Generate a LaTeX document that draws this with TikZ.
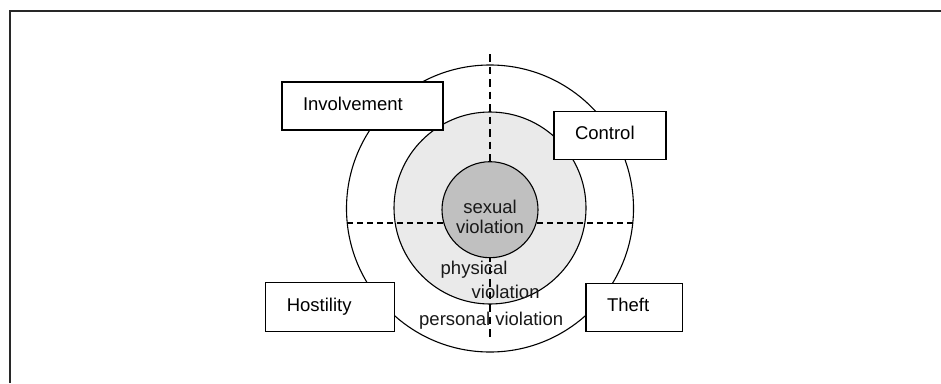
\documentclass[tikz,border=0pt]{standalone}
\usepackage{fontspec}
\setmainfont{Liberation Sans}
\definecolor{midgray}{RGB}{234,234,234}
\definecolor{coregray}{RGB}{192,192,192}
\definecolor{framegray}{RGB}{40,40,40}
\tikzset{
  ring/.style={circle, draw=black, line width=1.1pt, inner sep=0pt},
  catbox/.style={rectangle, draw=black, fill=white, line width=1.3pt,
    inner xsep=21pt, inner ysep=0pt, align=left,
    text height=13.3pt, text depth=5.1pt, font=\fontsize{18.5pt}{21pt}\selectfont},
  lbl/.style={inner sep=0pt, font=\fontsize{18.5pt}{20.6pt}\selectfont, text=black!90},
  hdash/.style={line width=1.2pt, dash pattern=on 6pt off 4pt},
  vdash/.style={line width=1.2pt, dash pattern=on 7.5pt off 5pt},
  frameline/.style={line width=2pt, draw=framegray}
}
\begin{document}
\begin{tikzpicture}[x=1pt,y=-1pt]
\useasboundingbox (0,0) rectangle (941,383);
% frame
\coordinate (ftl) at (10,11);
\coordinate (ftr) at (941,11);
\coordinate (fbl) at (10,383);
\draw[frameline] (fbl) -- (ftl) -- (ftr);
% rings
\node[ring, fill=white, minimum size=287pt] (outer) at (490,208.5) {};
\node[ring, fill=midgray, minimum size=192pt] (middle) at (490,208) {};
% dashed axes
\coordinate (hl) at (347,223);
\coordinate (hr) at (633,223);
\coordinate (vt) at (490,54);
\coordinate (vb) at (490,341);
\draw[hdash] (hl) -- (hr);
\draw[vdash] (vt) -- (vb);
\node[ring, fill=coregray, minimum size=96pt] (inner) at (490,209.7) {};
% labels
\node[lbl, align=center] (sexual) at (490,217) {sexual\\violation};
\node[lbl, anchor=west] (physical) at (440.5,270) {physical};
\node[lbl, anchor=west] (physviol) at (471.5,291.5) {violation};
\node[lbl, anchor=west] (personal) at (419,320.5) {personal violation};
% boxes
\node[catbox, minimum width=161pt, minimum height=48pt, text width=119pt] (involvement) at (362.5,106) {Involvement};
\node[catbox, minimum width=112pt, minimum height=48pt, text width=70pt] (control) at (610,135.3) {Control};
\node[catbox, minimum width=128.5pt, minimum height=49pt, text width=86.5pt] (hostility) at (330,307.2) {Hostility};
\node[catbox, minimum width=96.5pt, minimum height=48.5pt, text width=54.5pt] (theft) at (634.3,307.5) {Theft};
\end{tikzpicture}
\end{document}
